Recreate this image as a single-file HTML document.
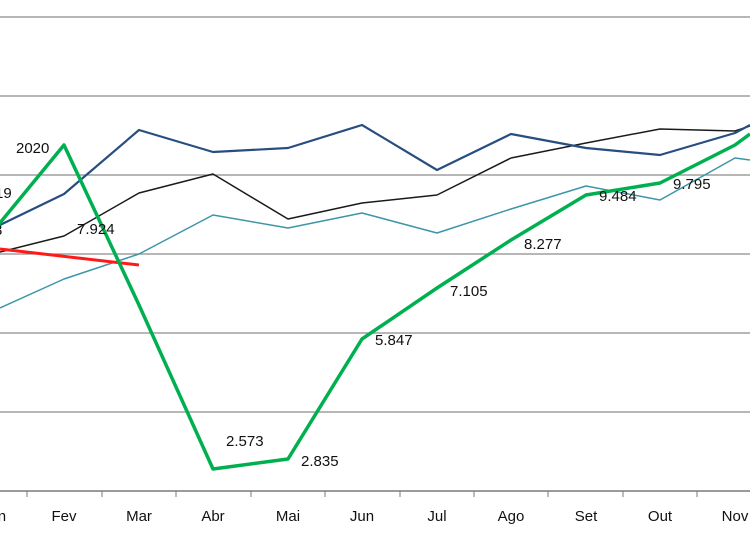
<!DOCTYPE html>
<html><head><meta charset="utf-8"><style>
html,body{margin:0;padding:0;background:#fff;}
svg{display:block;font-family:"Liberation Sans",sans-serif;}
</style></head><body>
<svg width="750" height="536" viewBox="0 0 750 536">
<g stroke="#8c8c8c" stroke-width="1.2">
<line x1="0" y1="17" x2="750" y2="17"/>
<line x1="0" y1="96" x2="750" y2="96"/>
<line x1="0" y1="175" x2="750" y2="175"/>
<line x1="0" y1="254" x2="750" y2="254"/>
<line x1="0" y1="333" x2="750" y2="333"/>
<line x1="0" y1="412" x2="750" y2="412"/>
</g>
<line x1="0" y1="491" x2="750" y2="491" stroke="#7a7a7a" stroke-width="1.5"/>
<g stroke="#7a7a7a" stroke-width="1">
<line x1="27" y1="491" x2="27" y2="497"/><line x1="102" y1="491" x2="102" y2="497"/>
<line x1="176" y1="491" x2="176" y2="497"/><line x1="251" y1="491" x2="251" y2="497"/>
<line x1="325" y1="491" x2="325" y2="497"/><line x1="400" y1="491" x2="400" y2="497"/>
<line x1="474" y1="491" x2="474" y2="497"/><line x1="548" y1="491" x2="548" y2="497"/>
<line x1="623" y1="491" x2="623" y2="497"/><line x1="697" y1="491" x2="697" y2="497"/>
</g>
<g fill="none" stroke-linejoin="round">
<polyline stroke="#3c96a8" stroke-width="1.5" points="0,308 64,279 139,254 213,215 288,228 362,213 437,233 511,209 586,186 660,200 735,158 750,160"/>
<polyline stroke="#1a1a1a" stroke-width="1.5" points="0,252 64,236 139,193 213,174 288,219 362,203 437,195 511,158 586,143 660,129 735,131 750,126"/>
<polyline stroke="#284e80" stroke-width="2.2" points="0,225 64,194 139,130 213,152 288,148 362,125 437,170 511,134 586,148 660,155 735,133 750,125"/>
<polyline stroke="#ff1a1a" stroke-width="3" points="0,249 139,265"/>
<polyline stroke="#00b050" stroke-width="3.5" points="-10,235 64,145 139,305 213,469 288,459 362,339 437,288 511,240 586,195 660,183 735,145 750,134"/>
</g>
<g font-size="15" fill="#111">
<text x="16" y="153">2020</text>
<text x="-5" y="198">19</text>
<text x="-6" y="235">3</text>
<text x="77" y="234">7.924</text>
<text x="226" y="446">2.573</text>
<text x="301" y="466">2.835</text>
<text x="375" y="345">5.847</text>
<text x="450" y="296">7.105</text>
<text x="524" y="249">8.277</text>
<text x="599" y="201">9.484</text>
<text x="673" y="189">9.795</text>
</g>
<g font-size="15" fill="#111" text-anchor="middle">
<text x="-6" y="521">Jan</text>
<text x="64" y="521">Fev</text>
<text x="139" y="521">Mar</text>
<text x="213" y="521">Abr</text>
<text x="288" y="521">Mai</text>
<text x="362" y="521">Jun</text>
<text x="437" y="521">Jul</text>
<text x="511" y="521">Ago</text>
<text x="586" y="521">Set</text>
<text x="660" y="521">Out</text>
<text x="735" y="521">Nov</text>
</g>
</svg>
</body></html>
